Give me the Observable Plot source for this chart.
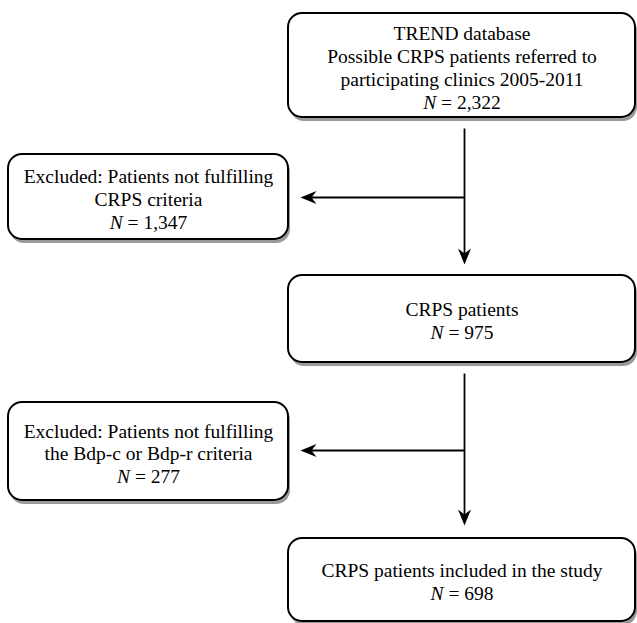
<!DOCTYPE html>
<html><head><meta charset="utf-8">
<script src="https://cdn.jsdelivr.net/npm/d3@7"></script>
<script src="https://cdn.jsdelivr.net/npm/@observablehq/plot@0.6"></script>
<style>body{margin:0;background:#fff;}</style>
</head><body><div id="chart"></div>
<script>
// ---- data ----
const stepLabels = [
  "TREND database\nPossible CRPS patients referred to\nparticipating clinics 2005-2011",
  "Excluded: Patients not fulfilling\nCRPS criteria",
  "CRPS patients",
  "Excluded: Patients not fulfilling\nthe Bdp-c or Bdp-r criteria",
  "CRPS patients included in the study"
];
const stepCounts = [2322, 1347, 975, 277, 698];

// ---- layout (pixel geometry of the flowchart) ----
const boxX1 = [288, 8, 288, 8, 288];
const boxX2 = [635, 288, 635, 288, 635];
const boxY1 = [13, 154, 275, 402, 538];
const boxY2 = [117, 239, 362, 500, 621];
const arrowFromX = [464, 464, 464, 464];
const arrowFromY = [128, 197, 373, 450];
const arrowToX = [464, 300, 464, 300];
const arrowToY = [264, 197, 525, 450];

const fmt = d3.format(",");
const boxes = d3.range(stepLabels.length);
const arrows = d3.range(arrowFromX.length);

function dirOf(i) {
  const dx = arrowToX[i] - arrowFromX[i], dy = arrowToY[i] - arrowFromY[i];
  const len = Math.hypot(dx, dy);
  return [dx / len, dy / len];
}

const stealth = {
  draw(context, size) {
    const L = 16, W = 13, notch = 11;
    context.moveTo(0, 0);
    context.lineTo(-L, -W / 2);
    context.lineTo(-notch, 0);
    context.lineTo(-L, W / 2);
    context.closePath();
  }
};

const chart = Plot.plot({
  width: 637,
  height: 623,
  margin: 0,
  x: {domain: [0, 637], range: [0, 637], axis: null},
  y: {domain: [0, 623], range: [0, 623], axis: null},
  style: {background: "#fff"},
  marks: [
    // shadows
    Plot.rect(boxes, {
      x1: i => boxX1[i], x2: i => boxX2[i], y1: i => boxY1[i], y2: i => boxY2[i],
      fill: "#999", dx: 2, dy: 4, rx: 14
    }),
    // boxes
    Plot.rect(boxes, {
      x1: i => boxX1[i], x2: i => boxX2[i], y1: i => boxY1[i], y2: i => boxY2[i],
      fill: "#fff", stroke: "#000", strokeWidth: 2, rx: 14
    }),
    // arrow shafts
    Plot.link(arrows, {
      x1: i => arrowFromX[i], y1: i => arrowFromY[i],
      x2: i => arrowToX[i] - dirOf(i)[0] * 8,
      y2: i => arrowToY[i] - dirOf(i)[1] * 8,
      stroke: "#000", strokeWidth: 1.8
    }),
    // arrow heads
    Plot.dot(arrows, {
      x: i => arrowToX[i], y: i => arrowToY[i],
      symbol: stealth, r: 8, fill: "#000", stroke: "none",
      rotate: i => Math.atan2(dirOf(i)[1], dirOf(i)[0]) * 180 / Math.PI
    }),
    // texts
    Plot.text(boxes, {
      x: i => (boxX1[i] + boxX2[i]) / 2,
      y: i => (boxY1[i] + boxY2[i]) / 2 + 1.5,
      text: i => `${stepLabels[i]}\nN = ${fmt(stepCounts[i])}`,
      fontFamily: "'Liberation Serif', 'Times New Roman', serif",
      fontSize: 19.5,
      lineHeight: 1.17,
      fill: "#000",
      textAnchor: "middle",
      lineAnchor: "middle"
    })
  ]
});

// italicize the "N" in the count lines
chart.querySelectorAll("tspan").forEach(ts => {
  const t = ts.textContent;
  if (t.startsWith("N = ")) {
    ts.textContent = "";
    const it = document.createElementNS("http://www.w3.org/2000/svg", "tspan");
    it.setAttribute("font-style", "italic");
    it.textContent = "N";
    ts.appendChild(it);
    ts.appendChild(document.createTextNode(t.slice(1)));
  }
});

document.getElementById("chart").appendChild(chart);
</script>
</body></html>
